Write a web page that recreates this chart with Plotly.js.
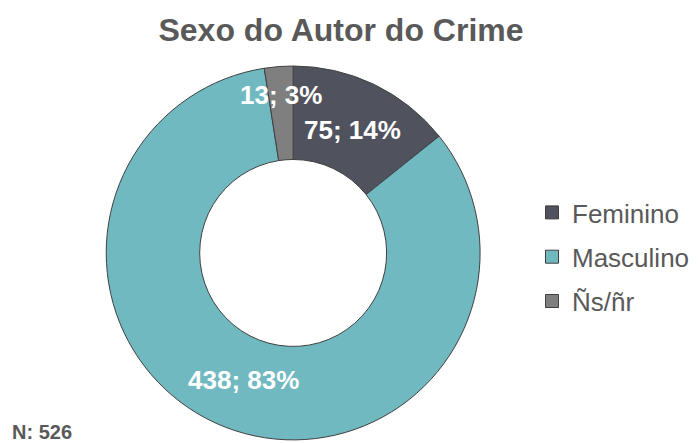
<!DOCTYPE html>
<html>
<head>
<meta charset="utf-8">
<script src="https://cdn.plot.ly/plotly-3.0.1.min.js"></script>
<style>html,body{margin:0;padding:0;background:#fff;}#chart{width:698px;height:443px;}</style>
</head>
<body>
<div id="chart"></div>
<script>
const categories = ["Feminino", "Masculino", "Ñs/ñr"];
const values = [75, 438, 13];
const colors = ["#50525e", "#70b9c1", "#7f7f7f"];
const totalLabel = "N: 526";
const chartTitle = "Sexo do Autor do Crime";

const W = 698, H = 443;
const dom = {x: [0.152, 0.688], y: [0.007, 0.851]};
const font = "Liberation Sans, Arial, sans-serif";
const grey = "#595959";

const total = values.reduce((a, b) => a + b, 0);
// whole-number percentages that add up to 100 (largest remainder)
const raw = values.map(v => v / total * 100);
const pct = raw.map(Math.floor);
let left = 100 - pct.reduce((a, b) => a + b, 0);
raw.map((r, i) => [r - Math.floor(r), i]).sort((a, b) => b[0] - a[0])
   .slice(0, left).forEach(([, i]) => pct[i] += 1);

const cx = (dom.x[0] + dom.x[1]) / 2 * W;
const cy = H * (1 - (dom.y[0] + dom.y[1]) / 2);
const R = Math.min((dom.x[1] - dom.x[0]) * W, (dom.y[1] - dom.y[0]) * H) / 2;

const annotations = [];
let cum = 0;
values.forEach((v, i) => {
  const frac = v / total;
  const mid = (cum + frac / 2) * 2 * Math.PI;
  cum += frac;
  const rf = frac < 0.05 ? 0.85 : 0.73;
  const px = cx + Math.sin(mid) * R * rf;
  const py = cy - Math.cos(mid) * R * rf;
  annotations.push({
    x: px / W, y: 1 - py / H, xref: "paper", yref: "paper",
    xanchor: "center", yanchor: "middle",
    text: "<b>" + v + "; " + pct[i] + "%</b>",
    showarrow: false,
    font: {family: font, size: 26, color: "#ffffff"}
  });
});
annotations.push({
  x: 10 / W, y: 1 - 432 / H, xref: "paper", yref: "paper",
  xanchor: "left", yanchor: "middle",
  text: "<b>" + totalLabel + "</b>", showarrow: false,
  font: {family: font, size: 20, color: grey}
});

const traces = [{
  type: "pie",
  labels: categories,
  values: values,
  sort: false,
  direction: "clockwise",
  rotation: 0,
  hole: 0.5,
  domain: dom,
  textinfo: "none",
  textposition: "none",
  showlegend: false,
  marker: {colors: colors, line: {color: "#404040", width: 1}}
}];
categories.forEach((c, i) => {
  traces.push({
    type: "scatter", mode: "markers", x: [null], y: [null],
    name: c, legendgroup: "g" + i, showlegend: true,
    marker: {symbol: "square", size: 13, color: colors[i], line: {color: "#404040", width: 1}}
  });
});

const layout = {
  width: W, height: H,
  margin: {l: 0, r: 0, t: 0, b: 0},
  paper_bgcolor: "#ffffff", plot_bgcolor: "#ffffff",
  title: {text: "<b>" + chartTitle + "</b>", x: 341 / W, xanchor: "center",
          y: 1 - 30 / H, yanchor: "middle", xref: "container", yref: "container",
          font: {family: font, size: 32, color: grey}},
  xaxis: {visible: false, domain: [0.8, 0.81]},
  yaxis: {visible: false, domain: [0.5, 0.51]},
  legend: {x: 532 / W, y: 1 - 189 / H, xanchor: "left", yanchor: "top",
           font: {family: font, size: 26, color: grey},
           tracegroupgap: 7.5, bgcolor: "rgba(0,0,0,0)"},
  annotations: annotations
};

Plotly.newPlot("chart", traces, layout, {displayModeBar: false, staticPlot: true});
</script>
</body>
</html>
